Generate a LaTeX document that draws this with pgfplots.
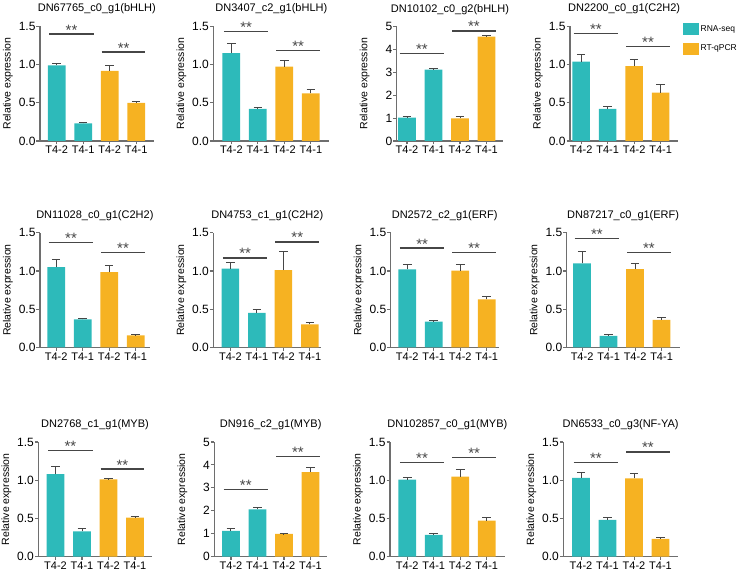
\documentclass[border=0pt]{standalone}
\usepackage{fontspec}
\setmainfont{Liberation Sans}
\usepackage{pgfplots}
\pgfplotsset{compat=1.18}

\definecolor{rnaseq}{RGB}{45,186,186}
\definecolor{qpcr}{RGB}{246,178,34}
\definecolor{axisgray}{RGB}{110,110,110}
\definecolor{siggray}{RGB}{70,70,70}

\pgfplotsset{
  panel/.style={
    scale only axis,
    x=26.5pt,
    height=114.5pt,
    ymin=0,
    axis lines*=left,
    clip=false,
    axis line style={axisgray, line width=1.2pt},
    tick align=outside,
    major tick length=3.5pt,
    every tick/.style={axisgray, line width=1.1pt},
    xtick={1,2,3,4},
    xticklabels={T4-2,T4-1,T4-2,T4-1},
    xticklabel style={font=\fontsize{11}{12}\selectfont, inner sep=1.5pt},
    yticklabel style={font=\fontsize{12}{14}\selectfont, inner sep=0.8pt},
    /pgf/number format/assume math mode=true,
    ylabel={Relative expression},
    every axis y label/.style={at={(axis description cs:0,0.5)}, xshift=-32pt, rotate=90, anchor=center, font=\fontsize{10.5}{12}\selectfont},
    title style={at={(axis description cs:0.5,1)}, anchor=base, yshift=8.5pt, font=\fontsize{11}{13}\selectfont},
  },
  small/.style={ymax=1.5, ytick={0,0.5,1,1.5},
    yticklabel style={/pgf/number format/.cd, fixed, fixed zerofill, precision=1}},
  large/.style={ymax=5, ytick={0,1,2,3,4,5}},
  bars/.style={ybar, bar width=0.667, bar shift=0pt, draw=none, fill=#1,
    error bars/.cd, y dir=plus, y explicit,
    error bar style={line width=1pt, siggray},
    error mark options={rotate=90, mark size=4.3pt, line width=1pt, siggray}},
}

% significance bracket: from x1 to x2 at height y, with "**" above it
\newcommand{\sig}[3]{%
  \draw[siggray, line width=1.3pt] (axis cs:#1,#3) -- (axis cs:#2,#3)
    node[midway, anchor=base, inner sep=0pt, yshift=-1pt, font=\fontsize{15}{16}\selectfont] {**};}
\newcommand{\sigpair}[2]{\sig{0.72}{2.4}{#1}\sig{2.7}{4.35}{#2}}

\begin{document}
\begin{tikzpicture}[x=1pt,y=1pt]
\path[use as bounding box] (0,0) rectangle (740,574);

% ---------- row 1 ----------
\begin{axis}[panel, small, at={(40pt,433pt)}, anchor=south west, xmin=0.37, xmax=4.66,
  title={DN67765\_c0\_g1(bHLH)}]
\addplot[bars=rnaseq] coordinates {(1,0.99) +- (0,0.02) (2,0.23) +- (0,0.013)};
\addplot[bars=qpcr] coordinates {(3,0.92) +- (0,0.07) (4,0.50) +- (0,0.015)};
\sigpair{1.40}{1.165}
\end{axis}

\begin{axis}[panel, small, at={(213.3pt,433pt)}, anchor=south west, xmin=0.32, xmax=4.70,
  title={DN3407\_c2\_g1(bHLH)}]
\addplot[bars=rnaseq] coordinates {(1,1.15) +- (0,0.13) (2,0.42) +- (0,0.02)};
\addplot[bars=qpcr] coordinates {(3,0.975) +- (0,0.075) (4,0.625) +- (0,0.045)};
\sigpair{1.43}{1.185}
\end{axis}

\begin{axis}[panel, large, at={(396.7pt,433pt)}, anchor=south west, xmin=0.61, xmax=4.63,
  title={DN10102\_c0\_g2(bHLH)}]
\addplot[bars=rnaseq] coordinates {(1,1.02) +- (0,0.04) (2,3.12) +- (0,0.04)};
\addplot[bars=qpcr] coordinates {(3,0.99) +- (0,0.10) (4,4.56) +- (0,0.03)};
\sigpair{3.83}{4.81}
\end{axis}

\begin{axis}[panel, small, at={(570pt,433pt)}, anchor=south west, xmin=0.58, xmax=4.67,
  title={DN2200\_c0\_g1(C2H2)},
  legend style={at={(axis description cs:1.042,1.03)}, anchor=north west, draw=none, fill=none,
    font=\fontsize{8.5}{10}\selectfont, row sep=7.5pt, inner sep=0pt,
    /tikz/every even column/.append style={column sep=3pt}},
  legend cell align=left,
  legend image code/.code={\fill (0pt,-6pt) rectangle (15.5pt,6pt);}]
\addplot[bars=rnaseq] coordinates {(1,1.04) +- (0,0.09) (2,0.42) +- (0,0.03)};
\addlegendentry{RNA-seq}
\addplot[bars=qpcr] coordinates {(3,0.98) +- (0,0.09) (4,0.635) +- (0,0.10)};
\addlegendentry{RT-qPCR}
\sigpair{1.41}{1.24}
\end{axis}

% ---------- row 2 ----------
\begin{axis}[panel, small, at={(40pt,226.7pt)}, anchor=south west, xmin=0.39, xmax=4.53,
  title={DN11028\_c0\_g1(C2H2)}]
\addplot[bars=rnaseq] coordinates {(1,1.05) +- (0,0.10) (2,0.366) +- (0,0.014)};
\addplot[bars=qpcr] coordinates {(3,0.985) +- (0,0.085) (4,0.157) +- (0,0.009)};
\sigpair{1.37}{1.24}
\end{axis}

\begin{axis}[panel, small, at={(213.3pt,226.7pt)}, anchor=south west, xmin=0.355, xmax=4.43,
  title={DN4753\_c1\_g1(C2H2)}]
\addplot[bars=rnaseq] coordinates {(1,1.03) +- (0,0.085) (2,0.45) +- (0,0.05)};
\addplot[bars=qpcr] coordinates {(3,1.01) +- (0,0.24) (4,0.30) +- (0,0.02)};
\sigpair{1.17}{1.38}
\end{axis}

\begin{axis}[panel, small, at={(390.7pt,226.7pt)}, anchor=south west, xmin=0.375, xmax=4.45,
  title={DN2572\_c2\_g1(ERF)}]
\addplot[bars=rnaseq] coordinates {(1,1.02) +- (0,0.065) (2,0.335) +- (0,0.018)};
\addplot[bars=qpcr] coordinates {(3,1.003) +- (0,0.082) (4,0.628) +- (0,0.042)};
\sigpair{1.30}{1.24}
\end{axis}

\begin{axis}[panel, small, at={(566.7pt,226.7pt)}, anchor=south west, xmin=0.42, xmax=4.68,
  title={DN87217\_c0\_g1(ERF)}]
\addplot[bars=rnaseq] coordinates {(1,1.10) +- (0,0.16) (2,0.149) +- (0,0.017)};
\addplot[bars=qpcr] coordinates {(3,1.023) +- (0,0.074) (4,0.36) +- (0,0.03)};
\sigpair{1.425}{1.24}
\end{axis}

% ---------- row 3 ----------
\begin{axis}[panel, small, at={(38.3pt,17.5pt)}, anchor=south west, xmin=0.35, xmax=4.63,
  title={DN2768\_c1\_g1(MYB)}]
\addplot[bars=rnaseq] coordinates {(1,1.08) +- (0,0.095) (2,0.33) +- (0,0.034)};
\addplot[bars=qpcr] coordinates {(3,1.01) +- (0,0.01) (4,0.51) +- (0,0.01)};
\sigpair{1.39}{1.145}
\end{axis}

\begin{axis}[panel, large, at={(214.3pt,17.5pt)}, anchor=south west, xmin=0.37, xmax=4.63,
  title={DN916\_c2\_g1(MYB)}]
\addplot[bars=rnaseq] coordinates {(1,1.12) +- (0,0.115) (2,2.06) +- (0,0.08)};
\addplot[bars=qpcr] coordinates {(3,0.99) +- (0,0.01) (4,3.69) +- (0,0.19)};
\sigpair{2.94}{4.36}
\end{axis}

\begin{axis}[panel, small, at={(390pt,17.5pt)}, anchor=south west, xmin=0.35, xmax=4.68,
  title={DN102857\_c0\_g1(MYB)}]
\addplot[bars=rnaseq] coordinates {(1,1.007) +- (0,0.031) (2,0.283) +- (0,0.022)};
\addplot[bars=qpcr] coordinates {(3,1.047) +- (0,0.087) (4,0.47) +- (0,0.036)};
\sigpair{1.23}{1.30}
\end{axis}

\begin{axis}[panel, small, at={(563.3pt,17.5pt)}, anchor=south west, xmin=0.33, xmax=4.66,
  title={DN6533\_c0\_g3(NF-YA)}]
\addplot[bars=rnaseq] coordinates {(1,1.03) +- (0,0.065) (2,0.48) +- (0,0.026)};
\addplot[bars=qpcr] coordinates {(3,1.025) +- (0,0.061) (4,0.231) +- (0,0.018)};
\sigpair{1.234}{1.37}
\end{axis}
\end{tikzpicture}
\end{document}
